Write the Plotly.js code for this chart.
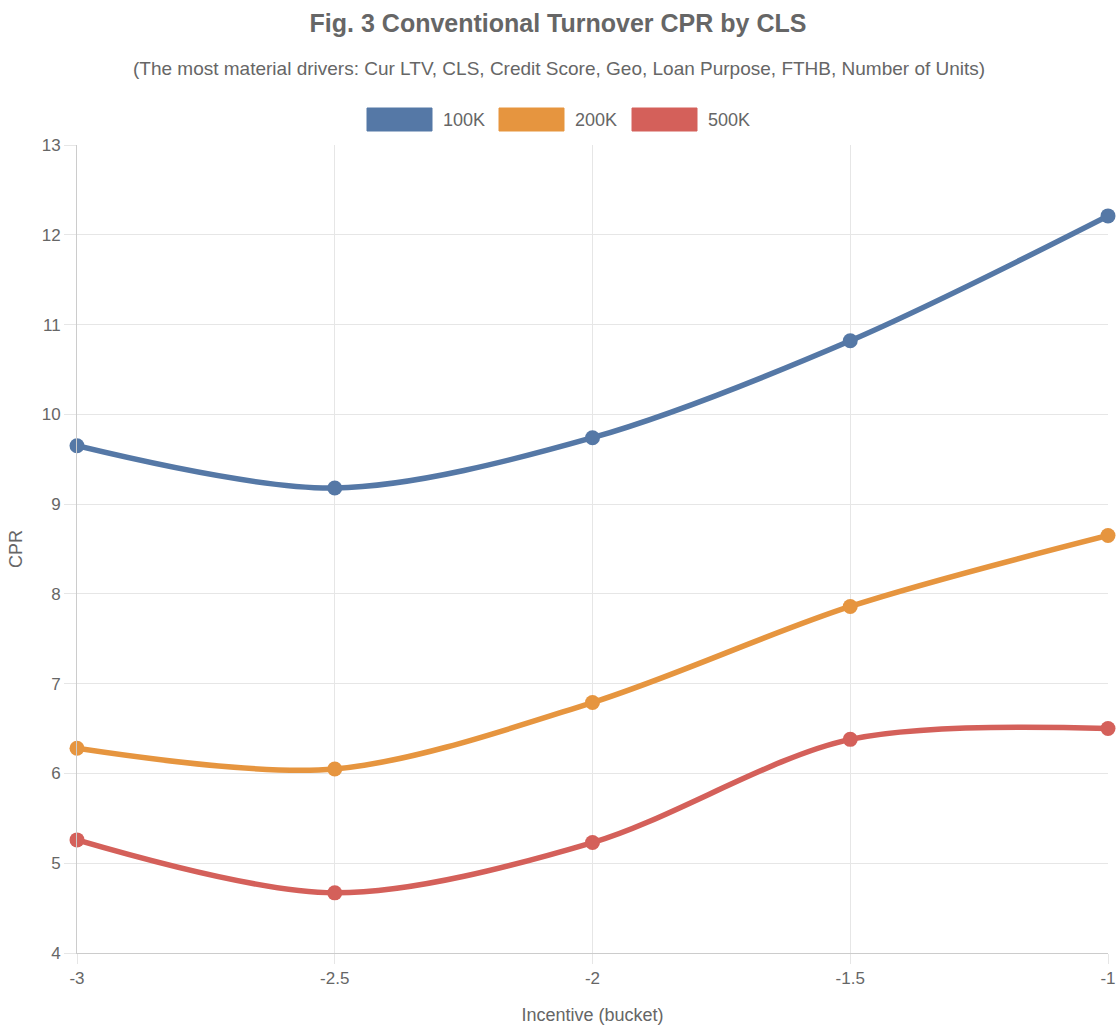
<!DOCTYPE html>
<html>
<head>
<meta charset="utf-8">
<script src="https://cdn.plot.ly/plotly-3.0.1.min.js"></script>
<style>
html,body{margin:0;padding:0;background:#fff;}
#chart{width:1116px;height:1027px;}
</style>
</head>
<body>
<div id="chart"></div>
<script>
const incentive = [-3, -2.5, -2, -1.5, -1];
const xTickLabels = ["-3", "-2.5", "-2", "-1.5", "-1"];
const seriesNames = ["100K", "200K", "500K"];
const cpr100K = [9.65, 9.18, 9.74, 10.82, 12.21];
const cpr200K = [6.28, 6.05, 6.79, 7.86, 8.65];
const cpr500K = [5.26, 4.67, 5.23, 6.38, 6.50];
const colors = ["#5578a6", "#e6953f", "#d4605a"];

const FONT = "Liberation Sans, Arial, Helvetica, sans-serif";
const allSeries = [cpr100K, cpr200K, cpr500K];
const traces = allSeries.map((vals, i) => ({
  type: "scatter",
  mode: "lines+markers",
  x: incentive,
  y: vals,
  name: seriesNames[i],
  line: {color: colors[i], width: 5.5, shape: "spline", smoothing: 0.9},
  marker: {color: colors[i], size: 15},
  cliponaxis: false,
  showlegend: false,
  hoverinfo: "x+y+name"
}));

const W = 1116, H = 1027, L = 77, R = 8, T = 145, B = 74;
const pw = W - L - R, ph = H - T - B;
function px2paperX(px){ return (px - L) / pw; }
function px2paperY(py){ return (H - B - py) / ph; }

// custom legend (boxes + labels)
const legendShapes = [];
const legendAnn = [];
const boxX = [367, 499, 632];
seriesNames.forEach((n, i) => {
  legendShapes.push({
    type: "rect", xref: "paper", yref: "paper",
    x0: px2paperX(boxX[i]), x1: px2paperX(boxX[i] + 65),
    y0: px2paperY(131), y1: px2paperY(108),
    fillcolor: colors[i], line: {color: colors[i], width: 1}
  });
  legendAnn.push({
    xref: "paper", yref: "paper",
    x: px2paperX(boxX[i] + 74), y: px2paperY(120),
    xanchor: "left", yanchor: "middle",
    text: n, showarrow: false,
    font: {family: FONT, size: 18, color: "#666"}
  });
});

legendAnn.push({
  xref: "paper", yref: "paper",
  x: px2paperX(559), y: px2paperY(68),
  xanchor: "center", yanchor: "middle",
  text: "(The most material drivers: Cur LTV, CLS, Credit Score, Geo, Loan Purpose, FTHB, Number of Units)",
  showarrow: false,
  font: {family: FONT, size: 19, color: "#666"}
});

const layout = {
  width: W, height: H,
  margin: {l: L, r: R, t: T, b: B},
  paper_bgcolor: "#fff", plot_bgcolor: "#fff",
  font: {family: FONT, color: "#666", size: 16},
  title: {
    text: "<b>Fig. 3 Conventional Turnover CPR by CLS</b>",
    x: 0.5, xanchor: "center", y: 1 - 23 / H, yanchor: "middle",
    font: {family: FONT, size: 25, color: "#666"}
  },
  xaxis: {
    range: [-3, -1],
    tickvals: incentive, ticktext: xTickLabels,
    showgrid: true, gridcolor: "#e6e6e6", gridwidth: 1,
    zeroline: false,
    showline: true, linecolor: "#ccc", linewidth: 1,
    ticks: "outside", ticklen: 10, tickcolor: "#e6e6e6",
    tickfont: {family: FONT, size: 17, color: "#666"},
    title: {text: "Incentive (bucket)", font: {family: FONT, size: 18, color: "#666"}, standoff: 20}
  },
  yaxis: {
    range: [4, 13], dtick: 1, tick0: 4,
    showgrid: true, gridcolor: "#e6e6e6", gridwidth: 1,
    zeroline: false,
    showline: true, linecolor: "#ccc", linewidth: 1,
    ticks: "outside", ticklen: 12, tickcolor: "#e6e6e6",
    tickfont: {family: FONT, size: 17, color: "#666"},
    title: {text: "CPR", font: {family: FONT, size: 18, color: "#666"}, standoff: 14}
  },
  shapes: legendShapes,
  annotations: legendAnn,
  showlegend: false
};

Plotly.newPlot("chart", traces, layout, {displayModeBar: false, responsive: false});
</script>
</body>
</html>
